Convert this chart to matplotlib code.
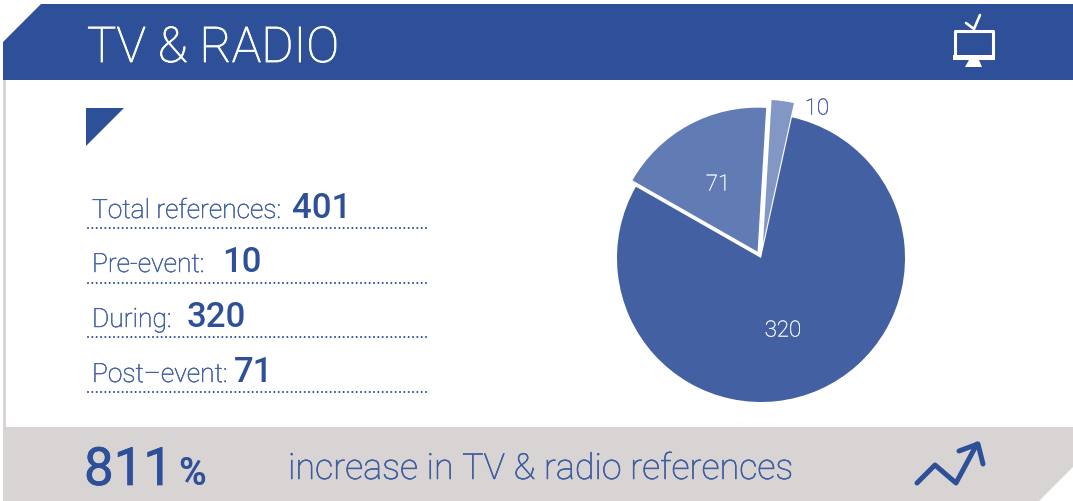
import matplotlib
matplotlib.use("Agg")
import matplotlib.pyplot as plt
import matplotlib.patheffects as pe
from matplotlib.patches import Polygon

plt.rcParams['font.family'] = ['Roboto', 'DejaVu Sans']

W, H = 1073, 501
BLUE = '#2E5099'
GREY = '#D8D4D4'

# Media references by period
periods = ['Pre-event', 'During', 'Post\u2013event']
references = [10, 320, 71]
total = sum(references)
increase_pct = 811

# Wedge order around the pie, clockwise from the upper right
pie_values = [references[1], references[2], references[0]]
pie_colors = ['#4360A3', '#617CB4', '#8297C3']
pie_explode = [0.0, 0.05, 0.10]


def thicken(color, width):
    """Outline that gives light type a slightly sturdier stroke."""
    return [pe.withStroke(linewidth=width, foreground=color)]


fig = plt.figure(figsize=(W / 100, H / 100), dpi=100, facecolor='white')
bg = fig.add_axes([0, 0, 1, 1])
bg.set_xlim(0, W)
bg.set_ylim(H, 0)
bg.axis('off')

# Header band with its clipped corner, side rule and footer band
bg.add_patch(Polygon([(3, 42), (41, 4), (W, 4), (W, 80), (3, 80)], fc=BLUE, ec='none'))
bg.add_patch(Polygon([(3, 80), (6, 80), (6, 427), (3, 427)], fc=GREY, ec='none'))
bg.add_patch(Polygon([(3, 427), (W, 427), (W, 467), (1039, H), (3, H)], fc=GREY, ec='none'))
bg.add_patch(Polygon([(86, 108), (124, 108), (86, 146)], fc=BLUE, ec='none'))

bg.text(87, 62, 'TV & RADIO', color='white', fontsize=35.5, fontweight='light', va='baseline',
        path_effects=thicken('white', 0.6))

# Television icon
bg.add_patch(plt.Rectangle((955, 31), 38, 27, fc='none', ec='white', lw=2.2, joinstyle='round'))
bg.add_patch(Polygon([(953, 55), (995, 55), (995, 60), (953, 60)], fc='white', ec='none'))
bg.add_patch(Polygon([(969, 60), (979, 60), (982, 67), (965, 67)], fc='white', ec='none'))
bg.plot([966, 974, 980], [23, 29, 15], color='white', lw=1.9, solid_capstyle='round',
        solid_joinstyle='miter')

# Rising trend icon
bg.plot([917, 935, 956, 977], [483, 465, 483, 444], color=BLUE, lw=3.6,
        solid_capstyle='round', solid_joinstyle='round')
bg.plot([959, 978, 983], [451, 444, 464], color=BLUE, lw=3.6,
        solid_capstyle='round', solid_joinstyle='round')

# Summary list with dotted rules
rows = [('Total references:', total, 218, 228, 292),
        (periods[0] + ':', references[0], 272, 282.5, 222),
        (periods[1] + ':', references[1], 327, 337, 187),
        (periods[2] + ':', references[2], 382, 392, 234)]
for label, value, base, rule, vx in rows:
    bg.text(92, base, label, color='#4360A3', fontsize=19, fontweight='light', va='baseline',
            path_effects=thicken('#4360A3', 0.35))
    bg.text(vx, base, str(value), color=BLUE, fontsize=25, fontweight='medium', va='baseline')
    bg.plot([88, 427], [rule, rule], color=BLUE, lw=1.5, dashes=(0.01, 2.07),
            dash_capstyle='round')

# Footer statement
bg.text(84, 485, str(increase_pct), color=BLUE, fontsize=38, fontweight='normal', va='baseline',
        path_effects=thicken(BLUE, 0.5))
bg.text(178, 485, '%', color=BLUE, fontsize=27, fontweight='bold', va='baseline')
bg.text(288, 479, 'increase in TV & radio references', color='#3F5CA0', fontsize=25.8,
        fontweight='light', va='baseline', path_effects=thicken('#3F5CA0', 0.4))

# Pie chart, in axes sized so one data unit is the 144 px radius
cx, cy, radius, half = 761, 258, 144, 165
pie_ax = fig.add_axes([(cx - half) / W, 1 - (cy + half) / H, 2 * half / W, 2 * half / H])
pie_ax.pie(pie_values, colors=pie_colors, explode=pie_explode, startangle=77.6,
           counterclock=False, radius=1, wedgeprops={'linewidth': 0})
pie_ax.set_xlim(-half / radius, half / radius)
pie_ax.set_ylim(-half / radius, half / radius)
pie_ax.patch.set_alpha(0)

bg.set_zorder(0)
pie_ax.set_zorder(1)

label_spots = [(783, 331, '#EEF1F7'), (718, 185, '#EEF1F7'), (817, 109, '#4360A3')]
for value, (x, y, color) in zip(pie_values, label_spots):
    fig.text(x / W, 1 - y / H, str(value), color=color, fontsize=16, fontweight='light',
             ha='center', va='center', zorder=5, path_effects=thicken(color, 0.3))

fig.savefig('out.png', dpi=100)
